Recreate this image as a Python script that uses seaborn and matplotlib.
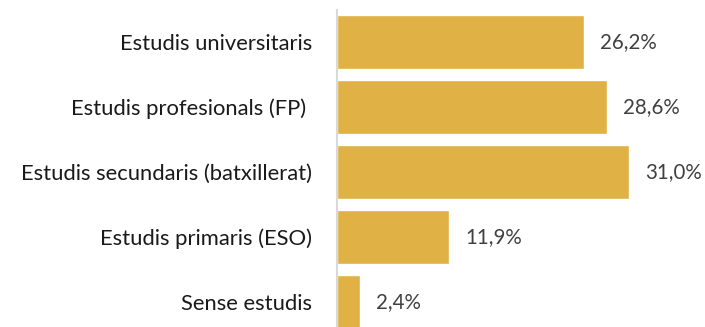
import matplotlib
matplotlib.use("Agg")
import matplotlib.pyplot as plt
import seaborn as sns
import pandas as pd

categories = [
    "Estudis universitaris",
    "Estudis profesionals (FP) ",
    "Estudis secundaris (batxillerat)",
    "Estudis primaris (ESO)",
    "Sense estudis",
]
values = [26.2, 28.6, 31.0, 11.9, 2.4]
value_labels = ["26,2%", "28,6%", "31,0%", "11,9%", "2,4%"]

sns.set_theme(style="white")
plt.rcParams["font.family"] = ["Lato", "DejaVu Sans"]

df = pd.DataFrame({"cat": categories, "val": values})

W, H = 705, 327
fig = plt.figure(figsize=(W / 100, H / 100), dpi=100)
ax = fig.add_axes([337 / W, 0, (700 - 337) / W, (H - 10) / H])

sns.barplot(data=df, x="val", y="cat", color="#E0B145", saturation=1,
            width=0.83, ax=ax, orient="h")

ax.set_xlim(0, (700 - 337) / 9.43)
ax.set_ylim(4.385, -0.492)
ax.set_xlabel("")
ax.set_ylabel("")
ax.set_xticks([])
ax.tick_params(axis="y", length=0, pad=18, labelsize=15.8, labelcolor="#1a1a1a")

for i, (v, lab) in enumerate(zip(values, value_labels)):
    ax.text(v + 1.7, i, lab, va="center", ha="left", fontsize=14.8, color="#404040")

for s in ["top", "right", "bottom"]:
    ax.spines[s].set_visible(False)
ax.spines["left"].set_color("#d9d9d9")
ax.spines["left"].set_linewidth(1.5)

fig.savefig("out.png", dpi=100)
